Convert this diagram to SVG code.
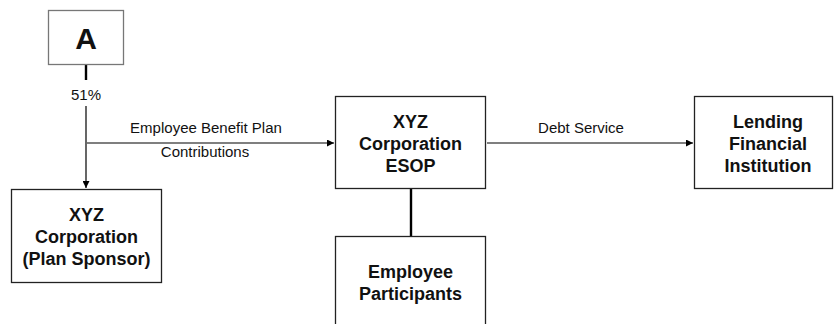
<svg xmlns="http://www.w3.org/2000/svg" width="834" height="324" viewBox="0 0 834 324">
<style>
.box{fill:#fff;stroke:#222;stroke-width:1.3}
.boxa{fill:#fff;stroke:#777;stroke-width:1.3}
.t{font-family:"Liberation Sans",Arial,sans-serif;font-weight:bold;font-size:18px;fill:#111;text-anchor:middle}
.l{font-family:"Liberation Sans",Arial,sans-serif;font-size:15px;fill:#111;text-anchor:middle}
.c{stroke:#000;stroke-width:1.2;fill:none}
.ct{stroke:#000;stroke-width:2.4;fill:none}
</style>
<defs>
<marker id="ah" viewBox="0 0 10 10" refX="10" refY="5" markerWidth="7" markerHeight="7" markerUnits="userSpaceOnUse" orient="auto">
<path d="M0,0 L10,5 L0,10 z" fill="#000"/>
</marker>
</defs>
<rect width="834" height="324" fill="#fff"/>
<g id="connectors">
<line class="ct" x1="86" y1="65" x2="86" y2="80"/>
<line class="c" x1="86" y1="106" x2="86" y2="188" marker-end="url(#ah)"/>
<line class="c" x1="87" y1="143" x2="334" y2="143" marker-end="url(#ah)"/>
<line class="c" x1="487" y1="143" x2="693" y2="143" marker-end="url(#ah)"/>
<line class="ct" x1="411" y1="189" x2="411" y2="236"/>
<text class="l" x="86" y="100">51%</text>
<text class="l" x="206" y="133">Employee Benefit Plan</text>
<text class="l" x="205" y="157">Contributions</text>
<text class="l" x="581" y="133">Debt Service</text>
</g>
<g id="nodeA">
<rect class="boxa" x="48.5" y="10.5" width="75" height="54"/>
<text class="t" x="86" y="49" style="font-size:30px">A</text>
</g>
<g id="sponsor">
<rect class="box" x="11.5" y="189.5" width="150" height="93"/>
<text class="t" x="86.5" y="221">XYZ</text>
<text class="t" x="86.5" y="243">Corporation</text>
<text class="t" x="86.5" y="265">(Plan Sponsor)</text>
</g>
<g id="esop">
<rect class="box" x="335.5" y="96.5" width="150" height="92"/>
<text class="t" x="410.5" y="128">XYZ</text>
<text class="t" x="410.5" y="150">Corporation</text>
<text class="t" x="410.5" y="172">ESOP</text>
</g>
<g id="lender">
<rect class="box" x="694.5" y="96.5" width="138" height="92"/>
<text class="t" x="768" y="128">Lending</text>
<text class="t" x="768" y="150">Financial</text>
<text class="t" x="768" y="172">Institution</text>
</g>
<g id="participants">
<rect class="box" x="335.5" y="236.5" width="150" height="100"/>
<text class="t" x="410.5" y="278">Employee</text>
<text class="t" x="410.5" y="300">Participants</text>
</g>
</svg>
